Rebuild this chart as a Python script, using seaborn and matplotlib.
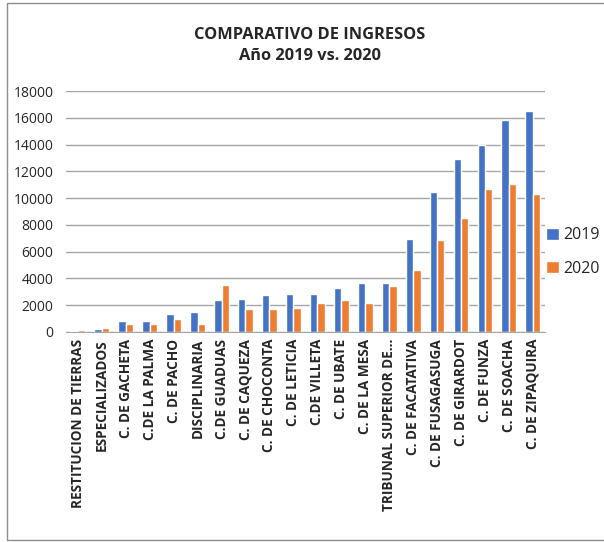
import matplotlib
matplotlib.use("Agg")
import matplotlib.pyplot as plt
import seaborn as sns
import pandas as pd
from matplotlib.patches import Rectangle

# ---------------- DATA ----------------
CATEGORIES = [
    "RESTITUCION DE TIERRAS", "ESPECIALIZADOS", "C. DE GACHETA", "C.DE LA PALMA",
    "C. DE PACHO", "DISCIPLINARIA", "C.DE GUADUAS", "C. DE CAQUEZA",
    "C. DE CHOCONTA", "C. DE LETICIA", "C.DE VILLETA", "C. DE UBATE",
    "C. DE LA MESA", "TRIBUNAL SUPERIOR DE...", "C. DE FACATATIVA",
    "C. DE FUSAGASUGA", "C. DE GIRARDOT", "C. DE FUNZA", "C. DE SOACHA",
    "C. DE ZIPAQUIRA",
]
VALUES_2019 = [50, 250, 825, 850, 1325, 1475, 2425, 2475, 2775, 2825,
               2825, 3300, 3650, 3675, 6950, 10475, 12950, 13950, 15850, 16525]
VALUES_2020 = [120, 275, 625, 575, 950, 600, 3500, 1700, 1725, 1775,
               2175, 2375, 2175, 3425, 4600, 6900, 8500, 10700, 11050, 10325]
YEARS = ["2019", "2020"]
COLORS = ["#4472C4", "#ED7D31"]

df = pd.DataFrame({
    "categoria": CATEGORIES * 2,
    "valor": VALUES_2019 + VALUES_2020,
    "anio": [YEARS[0]] * len(CATEGORIES) + [YEARS[1]] * len(CATEGORIES),
})

# ---------------- PLOT ----------------
sns.set_style("white")
plt.rcParams["font.family"] = ["Open Sans", "DejaVu Sans"]

fig = plt.figure(figsize=(6.04, 5.42), dpi=100)
ax = fig.add_axes([0.109, 0.3875, 0.793, 0.4445])

sns.barplot(data=df, x="categoria", y="valor", hue="anio", palette=COLORS,
            width=0.62, gap=0.0, ax=ax, legend=True, saturation=1)

ax.set_ylim(0, 18000)
ax.set_yticks(range(0, 18001, 2000))
ax.yaxis.grid(True, color="#A6A6A6", linewidth=1)
ax.set_axisbelow(True)
for side in ["left", "right", "top"]:
    ax.spines[side].set_visible(False)
ax.spines["bottom"].set_color("#A6A6A6")
ax.set_xlabel("")
ax.set_ylabel("")
ax.tick_params(axis="y", length=0, labelsize=10, pad=9)
ax.tick_params(axis="x", length=0, labelsize=9.8, pad=5)
ax.set_xticks(range(len(CATEGORIES)))
ax.set_xticklabels(CATEGORIES, rotation=90, fontweight="bold")
ax.set_xlim(-0.5, len(CATEGORIES) - 0.5)

leg = ax.legend(loc="center left", bbox_to_anchor=(546 / 604, 1 - 252 / 542),
                bbox_transform=fig.transFigure, frameon=False, borderpad=0,
                borderaxespad=0, fontsize=11.5, handlelength=0.8,
                handleheight=0.8, handletextpad=0.3, labelspacing=1.1)

fig.text(0.513, 0.935, "COMPARATIVO DE INGRESOS", ha="center", va="center",
         fontsize=11.8, fontweight="bold")
fig.text(0.513, 0.896, "Año 2019 vs. 2020", ha="center", va="center",
         fontsize=11.8, fontweight="bold")

# outer chart border
fig.patches.append(Rectangle((7 / 604, 1 - 540 / 542), 1.0, (540 - 3) / 542,
                             transform=fig.transFigure, fill=False,
                             edgecolor="#8C8C8C", linewidth=1))

fig.savefig("out.png", dpi=100)
